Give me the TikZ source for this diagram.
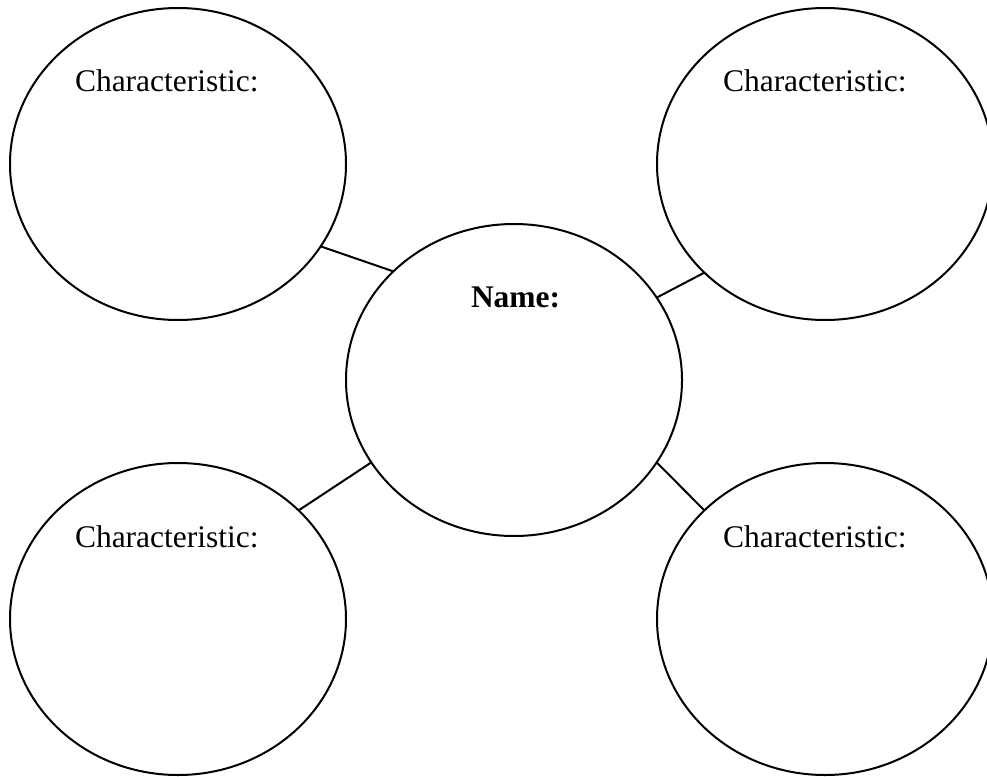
\documentclass[tikz,border=0pt]{standalone}
\usepackage{fontspec}
\setmainfont{Liberation Serif}
\usetikzlibrary{shapes.geometric}

\begin{document}
\begin{tikzpicture}[x=1pt,y=-1pt,line width=2pt,
  font=\fontsize{31.5}{36}\selectfont,
  bubble/.style={draw,ellipse,inner sep=0pt,outer sep=0pt,
                 minimum width=336pt,minimum height=312pt},
  tag/.style={anchor=base west,inner sep=0pt}]
\useasboundingbox (0,0) rectangle (987,776);

\node[bubble] (nameBubble)  at (514,380) {};
\node[bubble] (charBubble1) at (178,164) {};
\node[bubble] (charBubble2) at (825,164) {};
\node[bubble] (charBubble3) at (178,619) {};
\node[bubble] (charBubble4) at (825,619) {};

\node[tag,font=\fontsize{31.5}{36}\selectfont\bfseries] (nameText) at (470,307) {Name:};
\node[tag] (charText1) at ( 74, 92) {Characteristic:};
\node[tag] (charText2) at (722, 92) {Characteristic:};
\node[tag] (charText3) at ( 74,547) {Characteristic:};
\node[tag] (charText4) at (722,547) {Characteristic:};

\draw (charBubble1.-30)  -- (nameBubble.138);
\draw (charBubble2.-138) -- (nameBubble.30);
\draw (charBubble3.42)   -- (nameBubble.-150);
\draw (charBubble4.138)  -- (nameBubble.-30);
\end{tikzpicture}
\end{document}
